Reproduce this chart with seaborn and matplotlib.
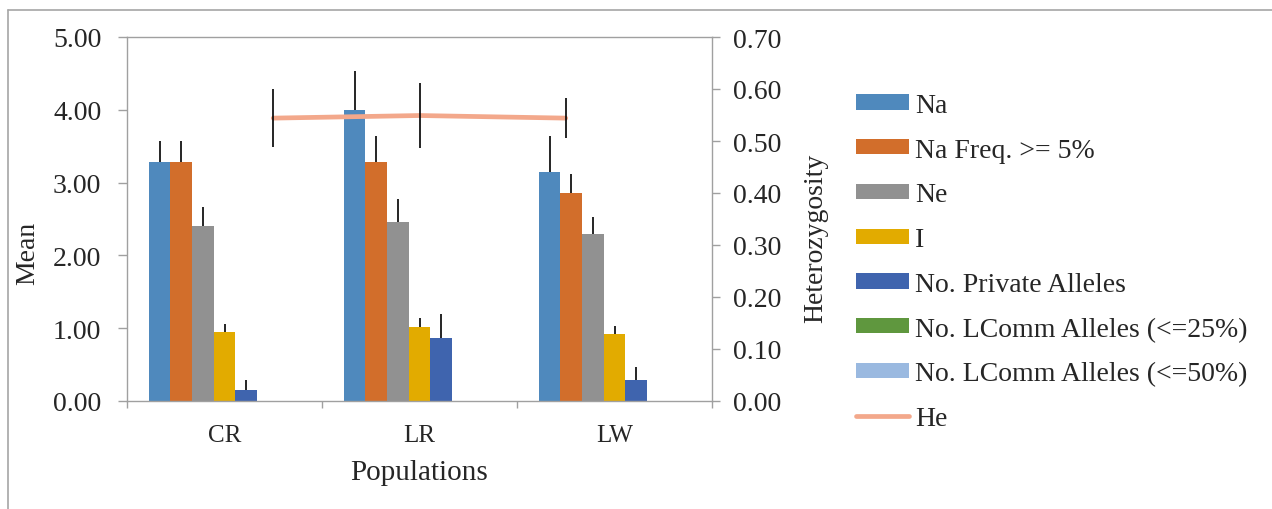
import numpy as np
import pandas as pd
import matplotlib
matplotlib.use("Agg")
import matplotlib.pyplot as plt
import seaborn as sns
from matplotlib.lines import Line2D
from matplotlib.patches import Patch

# ---- data ----
populations = ["CR", "LR", "LW"]
series = ["Na", "Na Freq. >= 5%", "Ne", "I", "No. Private Alleles",
          "No. LComm Alleles (<=25%)", "No. LComm Alleles (<=50%)"]
na = [3.28, 4.00, 3.14]
na_freq5 = [3.28, 3.28, 2.86]
ne = [2.40, 2.46, 2.30]
info_i = [0.95, 1.01, 0.92]
private = [0.15, 0.86, 0.29]
lcomm25 = [0.0, 0.0, 0.0]
lcomm50 = [0.0, 0.0, 0.0]
na_se = [0.29, 0.53, 0.50]
na_freq5_se = [0.29, 0.36, 0.26]
ne_se = [0.27, 0.31, 0.23]
info_i_se = [0.11, 0.13, 0.11]
private_se = [0.14, 0.33, 0.18]
lcomm25_se = [0.0, 0.0, 0.0]
lcomm50_se = [0.0, 0.0, 0.0]
he = [0.544, 0.549, 0.544]
he_se = [0.056, 0.063, 0.038]

colors = ["#4F89BD", "#D26E2B", "#919191", "#E2AB00", "#3F64AE", "#5F973E", "#9AB9E0"]
he_color = "#F3A88B"

values = [na, na_freq5, ne, info_i, private, lcomm25, lcomm50]
errors = [na_se, na_freq5_se, ne_se, info_i_se, private_se, lcomm25_se, lcomm50_se]

rows = []
for s, vals in zip(series, values):
    for p, v in zip(populations, vals):
        rows.append({"Population": p, "Series": s, "Mean": v})
df = pd.DataFrame(rows)
df_he = pd.DataFrame({"idx": np.arange(len(populations)), "He": he})

# ---- style ----
sns.set_theme(style="white")
plt.rcParams["font.family"] = ["Liberation Serif", "DejaVu Serif"]
plt.rcParams["axes.edgecolor"] = "#A0A0A0"

W, H = 1272, 510
fig = plt.figure(figsize=(W / 100, H / 100), dpi=100)
L, R, B, T = 127 / W, 712 / W, 1 - 402 / H, 1 - 38 / H
ax = fig.add_axes([L, B, R - L, T - B])

sns.barplot(data=df, x="Population", y="Mean", hue="Series", hue_order=series,
            order=populations, palette=colors, width=7 / 9, gap=0,
            errorbar=None, ax=ax, legend=False, saturation=1,
            edgecolor="none", linewidth=0)

# error bars (plus only), positioned from the bar patches
for cont, err in zip(ax.containers, errors):
    xs = [b.get_x() + b.get_width() / 2 for b in cont]
    ys = [b.get_height() for b in cont]
    if max(err) > 0:
        ax.errorbar(xs, ys, yerr=[np.zeros(len(err)), err], fmt="none",
                    ecolor="black", elinewidth=1.2, capsize=0, zorder=5)

ax.set_xlim(-0.5, 2.5)
ax.set_ylim(0, 5)
ax.set_yticks(np.arange(0, 5.01, 1))
ax.set_yticklabels([f"{v:.2f}" for v in np.arange(0, 5.01, 1)], fontsize=20)
ax.set_xticks([-0.5, 0.5, 1.5, 2.5])
ax.set_xticklabels([])
ax.set_xticks([0, 1, 2], minor=True)
ax.set_xticklabels(populations, minor=True, fontsize=18)
ax.tick_params(axis="x", which="major", direction="out", length=5, width=1,
               color="#A0A0A0", bottom=True)
ax.tick_params(axis="x", which="minor", length=0, pad=16.5, bottom=True)
ax.tick_params(axis="y", direction="out", length=6.5, width=1, color="#A0A0A0",
               pad=12, left=True)
ax.set_xlabel("")
ax.set_ylabel("")
for sp in ax.spines.values():
    sp.set_visible(True)
    sp.set_color("#A0A0A0")
    sp.set_linewidth(1.0)

# secondary axes for He
ax2 = fig.add_axes([L, B, R - L, T - B], facecolor="none")
sns.lineplot(data=df_he, x="idx", y="He", ax=ax2, color=he_color, linewidth=3.4,
             legend=False, zorder=3)
ax2.errorbar(df_he["idx"], df_he["He"], yerr=he_se, fmt="none", ecolor="black",
             elinewidth=1.2, capsize=0, zorder=4)
ax2.set_xlim(-1, 3)
ax2.set_ylim(0, 0.7)
ax2.xaxis.set_visible(False)
ax2.yaxis.tick_right()
ax2.set_yticks(np.arange(0, 0.701, 0.1))
ax2.set_yticklabels([f"{v:.2f}" for v in np.arange(0, 0.701, 0.1)], fontsize=20)
ax2.tick_params(axis="y", direction="out", length=6, width=1, color="#A0A0A0",
                pad=9, right=True, left=False)
ax2.set_xlabel("")
ax2.set_ylabel("")
for sp in ax2.spines.values():
    sp.set_visible(False)

# axis titles
fig.text(28 / W, 1 - 253 / H, "Mean", rotation=90, ha="center", va="center", fontsize=20)
fig.text(816 / W, 1 - 238 / H, "Heterozygosity", rotation=90, ha="center", va="center", fontsize=20)
fig.text(419 / W, 1 - 473 / H, "Populations", ha="center", va="center", fontsize=21)

# legend
handles = [Patch(facecolor=c, edgecolor="none") for c in colors]
handles.append(Line2D([0], [0], color=he_color, lw=3.4))
labels = series + ["He"]
fig.legend(handles, labels, loc="upper left", bbox_to_anchor=(856 / W, 1 - 94 / H),
           frameon=False, fontsize=20, handlelength=1.9, handleheight=0.47,
           handletextpad=0.22, labelspacing=0.71, borderaxespad=0, borderpad=0)

# outer chart border
fig.add_artist(Line2D([7.5 / W, 7.5 / W], [0, 1 - 11 / H], color="#A6A6A6", lw=1.2,
                      transform=fig.transFigure))
fig.add_artist(Line2D([7.5 / W, 1], [1 - 11 / H, 1 - 11 / H], color="#A6A6A6", lw=1.2,
                      transform=fig.transFigure))

fig.savefig("out.png", dpi=100)
